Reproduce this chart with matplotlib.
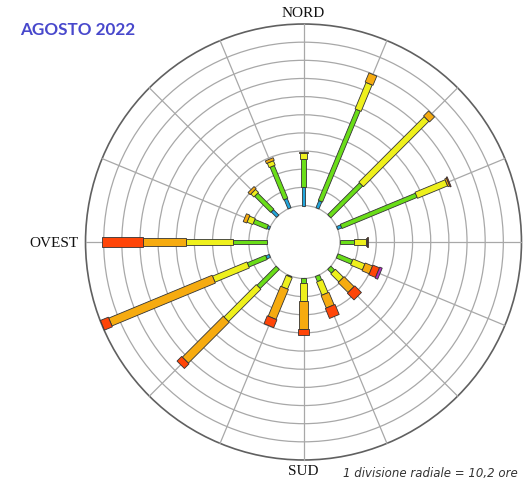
import matplotlib
matplotlib.use("Agg")
import matplotlib.pyplot as plt
import matplotlib.transforms as mtransforms
from matplotlib.patches import Circle, Rectangle
import numpy as np

# wind directions (compass, clockwise from north)
directions = ["N", "NNE", "NE", "ENE", "E", "ESE", "SE", "SSE",
              "S", "SSW", "SW", "WSW", "W", "WNW", "NW", "NNW"]

# hours per speed class for each direction
hours_blue = [10.2, 4.3, 0.0, 2.4, 0.0, 0.0, 0.0, 0.0,
              0.0, 0.0, 0.0, 2.1, 0.0, 1.4, 4.3, 5.6]
hours_green = [15.9, 55.4, 25.3, 45.7, 8.0, 8.9, 3.0, 3.1,
               2.7, 0.5, 15.2, 11.1, 19.3, 8.2, 12.8, 19.9]
hours_yellow = [3.2, 16.1, 52.0, 18.3, 6.6, 7.2, 6.4, 8.0,
                9.8, 6.9, 25.7, 20.9, 26.2, 3.5, 2.4, 2.7]
hours_orange = [0.7, 5.6, 4.0, 1.1, 0.6, 4.4, 7.9, 7.6,
                15.9, 18.2, 32.5, 62.9, 24.3, 2.1, 1.7, 1.6]
hours_red = [0.0, 0.0, 0.0, 0.6, 0.6, 4.0, 5.3, 6.1,
             3.2, 4.8, 3.7, 4.8, 23.0, 0.0, 0.0, 0.0]
hours_purple = [0.0, 0.0, 0.0, 0.0, 0.0, 1.5, 0.0, 0.0,
                0.0, 0.0, 0.0, 0.0, 0.0, 0.0, 0.0, 0.0]

division = 10.2     # hours per radial division
n_div = 10
hole = 20.5         # radius of the empty centre, in hours

classes = [hours_blue, hours_green, hours_yellow, hours_orange, hours_red, hours_purple]
colors = ["#22a6dc", "#6ade18", "#eef01c", "#f6ab10", "#ff4508", "#b02cc0"]
widths_px = [3.3, 4.6, 6.6, 8.5, 10.5, 12.0]

# figure geometry: 1 px = division / 18.15 hours, centre at (303.5, 243) px
W, H = 525, 485
px = division / 18.15
cx, cy = 303.5, 243

fig = plt.figure(figsize=(W / 100, H / 100), dpi=100)
ax = fig.add_axes([0, 0, 1, 1])
ax.set_xlim(-cx * px, (W - cx) * px)
ax.set_ylim(-(H - cy) * px, cy * px)
ax.axis("off")

# grid
outer = hole + n_div * division
for k in range(0, n_div):
    ax.add_patch(Circle((0, 0), hole + k * division, fill=False,
                        ec="#a8a8a8", lw=0.9, zorder=1))
ax.add_patch(Circle((0, 0), outer, fill=False, ec="#606060", lw=1.2, zorder=1))
for a in np.arange(0, 360, 22.5):
    t = np.radians(a)
    ax.plot([hole * np.sin(t), outer * np.sin(t)],
            [hole * np.cos(t), outer * np.cos(t)],
            color="#a8a8a8", lw=0.9, zorder=1)

# bars
for i, d in enumerate(directions):
    angle = i * 22.5
    rot = mtransforms.Affine2D().rotate_deg(90 - angle) + ax.transData
    r0 = hole
    for vals, col, wpx in zip(classes, colors, widths_px):
        v = vals[i]
        if v <= 0:
            continue
        w = wpx * px
        ax.add_patch(Rectangle((r0, -w / 2), v, w, fc=col, ec="#333333",
                               lw=0.6, transform=rot, zorder=3))
        r0 += v

# labels
serif = "Liberation Serif"
ax.text(0, outer + 5 * px, "NORD", family=serif, fontsize=11,
        ha="center", va="bottom", color="#111111")
ax.text(0, -outer - 4 * px, "SUD", family=serif, fontsize=11,
        ha="center", va="top", color="#111111")
ax.text(-outer - 7 * px, -1 * px, "OVEST", family=serif, fontsize=11,
        ha="right", va="center", color="#111111")
ax.text(518 * px - cx * px, -(474 - cy) * px, "1 divisione radiale = 10,2 ore",
        family="DejaVu Sans", style="italic", fontsize=8.5,
        ha="right", va="center", color="#333333")
fig.text(20 / W, 1 - 30 / H, "AGOSTO 2022", family="Lato", fontweight="bold",
         fontsize=12.3, color="#4848cc", ha="left", va="center")

fig.savefig("out.png", dpi=100, facecolor="white")
